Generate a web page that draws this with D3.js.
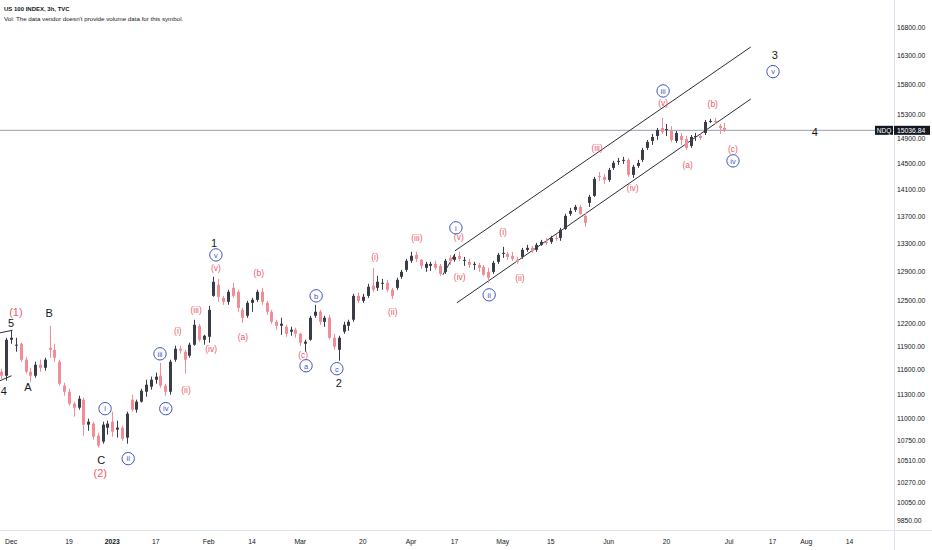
<!DOCTYPE html>
<html>
<head>
<meta charset="utf-8" />
<title>US 100 INDEX, 3h, TVC</title>
<script src="https://d3js.org/d3.v7.min.js"></script>
<style>
  body { margin: 0; background: #fff; }
  svg { display: block; font-family: 'Liberation Sans', Arial, sans-serif; }
</style>
</head>
<body>
<svg width="932" height="550"></svg>
<script>
// daily bars, Nov 29 2022 .. Jul 7 2023 (index 0 = Nov 29)
const opens = [
    11576, 11526, 11984, 11920, 11933, 11728, 11576, 11526, 11664, 11626,
    11881, 11855, 11702, 11402, 11328, 11182, 11134, 11231, 10931, 10943,
    10801, 10732, 10895, 10966, 10872, 10895, 10778, 11231, 11110, 11207,
    11328, 11390, 11476, 11526, 11402, 11328, 11728, 11868, 11830, 11779,
    11920, 12167, 11984, 12023, 12568, 12719, 12541, 12487, 12678, 12623,
    12379, 12300, 12473, 12514, 12623, 12473, 12353, 12220, 12167, 12154,
    12089, 12115, 12062, 11933, 11984, 12300, 12353, 12220, 12273, 12010,
    11855, 12089, 12167, 12247, 12568, 12500, 12568, 12706, 12678, 12733,
    12747, 12651, 12678, 12830, 12927, 13054, 13139, 13068, 12955, 12983,
    13011, 12983, 12899, 13096, 13068, 13125, 13054, 13040, 12997, 12997,
    12969, 12899, 12899, 13040, 13153, 13153, 13125, 13068, 13110, 13210,
    13239, 13210, 13282, 13325, 13325, 13383, 13383, 13514, 13736, 13795,
    13840, 13706, 13900, 14006, 14312, 14297, 14250, 14437, 14531, 14547,
    14563, 14328, 14468, 14563, 14753, 14865, 14945, 15075, 15043, 15026,
    14865, 14945, 14897, 14785, 14929, 14945, 14994, 15191, 15191, 15108,
    15075,
]
const highs = [
    11614, 12010, 12102, 12010, 11946, 11766, 11626, 11702, 11728, 11753,
    12167, 11933, 11728, 11439, 11365, 11207, 11279, 11255, 11002, 10966,
    10836, 10966, 10978, 11086, 10978, 10919, 11086, 11292, 11231, 11365,
    11476, 11514, 11564, 11689, 11427, 11728, 11907, 11907, 11855, 11946,
    12247, 12194, 12049, 12433, 12830, 12802, 12568, 12651, 12747, 12651,
    12406, 12500, 12541, 12651, 12678, 12500, 12379, 12247, 12273, 12180,
    12154, 12141, 12076, 11984, 12300, 12446, 12379, 12300, 12313, 12062,
    12036, 12220, 12247, 12596, 12610, 12596, 12733, 12955, 12844, 12802,
    12788, 12678, 12816, 12927, 13082, 13182, 13182, 13082, 13040, 13040,
    13054, 13011, 13082, 13139, 13153, 13182, 13110, 13082, 13040, 13025,
    12997, 12955, 13054, 13167, 13253, 13182, 13182, 13110, 13239, 13282,
    13268, 13311, 13354, 13383, 13412, 13441, 13529, 13736, 13825, 13870,
    13870, 13751, 14022, 14297, 14375, 14343, 14437, 14547, 14594, 14610,
    14594, 14484, 14563, 14753, 14881, 14978, 15075, 15240, 15141, 15108,
    15026, 14994, 14945, 14961, 14994, 14994, 15207, 15224, 15240, 15141,
    15158,
]
const lows = [
    11476, 11464, 11933, 11830, 11702, 11551, 11451, 11501, 11576, 11589,
    11753, 11702, 11402, 11279, 11158, 11026, 11110, 10801, 10860, 10755,
    10662, 10708, 10813, 10790, 10778, 10743, 10708, 11086, 11074, 11195,
    11267, 11353, 11427, 11377, 11279, 11292, 11702, 11804, 11551, 11753,
    11907, 11959, 11920, 11946, 12555, 12487, 12446, 12446, 12541, 12353,
    12207, 12273, 12353, 12487, 12446, 12313, 12194, 12115, 12049, 12023,
    12036, 12010, 11907, 11830, 11971, 12273, 12180, 12154, 11984, 11855,
    11715, 12062, 12102, 12220, 12473, 12473, 12541, 12623, 12637, 12651,
    12623, 12527, 12651, 12802, 12899, 13025, 13040, 12941, 12899, 12913,
    12927, 12844, 12871, 12997, 13040, 13054, 12983, 12955, 12927, 12899,
    12844, 12747, 12871, 13011, 13096, 13068, 13054, 13011, 13082, 13182,
    13167, 13182, 13268, 13282, 13296, 13340, 13340, 13500, 13706, 13765,
    13721, 13544, 13840, 13991, 14235, 14189, 14220, 14406, 14484, 14500,
    14297, 14281, 14437, 14531, 14721, 14801, 14881, 14978, 14945, 14849,
    14833, 14801, 14721, 14753, 14865, 14881, 14961, 15158, 15141, 14978,
    15010,
]
const closes = [
    11526, 11984, 12010, 11920, 11728, 11576, 11526, 11664, 11626, 11728,
    11855, 11753, 11427, 11328, 11182, 11134, 11243, 10931, 10966, 10790,
    10685, 10931, 10943, 10848, 10895, 10766, 11062, 11110, 11207, 11340,
    11414, 11476, 11514, 11402, 11328, 11702, 11868, 11843, 11728, 11920,
    12180, 11984, 12036, 12379, 12761, 12555, 12487, 12623, 12568, 12406,
    12273, 12473, 12514, 12623, 12487, 12353, 12220, 12167, 12194, 12062,
    12115, 12062, 11946, 11959, 12273, 12353, 12220, 12273, 12010, 11894,
    12010, 12180, 12220, 12568, 12500, 12555, 12692, 12651, 12761, 12747,
    12651, 12568, 12788, 12899, 13054, 13125, 13082, 12983, 13011, 13011,
    12955, 12871, 13054, 13054, 13110, 13082, 13068, 12997, 13011, 12955,
    12858, 12816, 13025, 13139, 13167, 13110, 13082, 13040, 13210, 13239,
    13196, 13282, 13325, 13311, 13383, 13369, 13500, 13706, 13780, 13840,
    13736, 13603, 13991, 14266, 14297, 14250, 14406, 14516, 14547, 14563,
    14328, 14453, 14516, 14721, 14849, 14929, 15043, 15010, 15059, 14881,
    14994, 14881, 14753, 14929, 14945, 14913, 15174, 15191, 15174, 15075,
    15036.84,
]
const lastPrice = 15036.84

// time axis: label text and the bar slot it sits on
const timeLabels = ['Dec', '19', '2023', '17', 'Feb', '14', 'Mar', '20', 'Apr', '17', 'May', '15', 'Jun', '20', 'Jul', '17', 'Aug', '14']
const timeSlots = [2, 14, 23, 32, 43, 52, 62, 75, 85, 94, 104, 114, 126, 138, 151, 160, 167, 176]

const priceTicks = [16800, 16300, 15800, 15300, 14900, 14500, 14100, 13700, 13300, 12900, 12500, 12200, 11900, 11600, 11300, 11000, 10750, 10510, 10270, 10050, 9850]

// elliott wave labels: [text, bar slot, price]
const intermediateLabels = [['(1)', 3.0, 12353], ['(2)', 20.5, 10377]]
const minorLabels = [
    ['5', 2.0, 12206], ['4', 0.5, 11340], ['A', 5.5, 11390], ['B', 9.9, 12340], ['C', 20.7, 10525],
    ['1', 44.1, 13310], ['2', 70.0, 11439], ['3', 160.5, 16316], ['4', 168.8, 15013],
]
const minuteLabels = [
    ['i', 21.5, 11122], ['ii', 26.3, 10536], ['iii', 32.9, 11803], ['iv', 34.1, 11122], ['v', 44.5, 13138],
    ['a', 63.2, 11651], ['b', 65.3, 12568], ['c', 69.6, 11614], ['i', 94.3, 13529], ['ii', 101.2, 12582],
    ['iii', 137.3, 15692], ['iv', 151.8, 14547], ['v', 160.1, 16024],
]
const minuetteLabels = [
    ['(i)', 36.6, 12102], ['(ii)', 38.3, 11353], ['(iii)', 40.4, 12380], ['(iv)', 43.5, 11868], ['(v)', 44.5, 12955],
    ['(a)', 50.1, 12023], ['(b)', 53.4, 12885], ['(c)', 62.6, 11791],
    ['(i)', 77.5, 13110], ['(ii)', 81.2, 12353], ['(iii)', 86.2, 13383], ['(iv)', 95.1, 12830], ['(v)', 94.9, 13397],
    ['(i)', 104.1, 13470], ['(ii)', 107.6, 12816], ['(iii)', 123.6, 14753], ['(iv)', 131.0, 14128], ['(v)', 137.3, 15488],
    ['(a)', 142.4, 14484], ['(b)', 147.6, 15471], ['(c)', 151.8, 14737],
]

// trend lines: [[slot, price], [slot, price]]
const trendLines = [
    [[94.1, 13196], [155.5, 16458]],
    [[94.5, 12473], [155.5, 15556]],
    [[91.6, 12858], [94.1, 13153]],
    [[-0.3, 12075], [2.3, 12108]],
    [[-0.3, 11464], [2.1, 11526]],
]

const W = 932
const plotRight = 894
const plotBottom = 530

const x = d3.scaleLinear().domain([-0.3, 185]).range([0, 893])
const y = d3.scaleLog().domain([9752, 17317]).range([plotBottom, 0])

const svg = d3.select('svg')

svg.append('defs').append('clipPath').attr('id', 'plot')
    .append('rect').attr('width', plotRight).attr('height', plotBottom)

const plot = svg.append('g').attr('clip-path', 'url(#plot)')

// last price line
plot.append('line')
    .attr('x1', 0).attr('x2', plotRight)
    .attr('y1', y(lastPrice)).attr('y2', y(lastPrice))
    .style('stroke', '#9a9ea8').style('stroke-width', 1)

plot.selectAll('line.trend')
    .data(trendLines)
    .enter()
    .append('line')
    .attr('class', 'trend')
    .attr('x1', (d) => x(d[0][0])).attr('y1', (d) => y(d[0][1]))
    .attr('x2', (d) => x(d[1][0])).attr('y2', (d) => y(d[1][1]))
    .style('stroke', '#2a2e39').style('stroke-width', 1)

const bars = d3.range(closes.length).map((i) => ({
    i,
    o: opens[i],
    h: highs[i],
    l: lows[i],
    c: closes[i],
}))
const upColor = '#3a3d46'
const downColor = '#f28c95'
const colorOf = (d) => (d.c >= d.o ? upColor : downColor)

const candle = plot.selectAll('g.bar')
    .data(bars)
    .enter()
    .append('g')
    .attr('class', 'bar')

candle.append('line')
    .attr('x1', (d) => Math.round(x(d.i)) + 0.5)
    .attr('x2', (d) => Math.round(x(d.i)) + 0.5)
    .attr('y1', (d) => y(d.h))
    .attr('y2', (d) => y(d.l))
    .style('stroke', colorOf)
    .style('stroke-width', 1)

candle.append('rect')
    .attr('x', (d) => Math.round(x(d.i)) - 1)
    .attr('width', 3)
    .attr('y', (d) => y(Math.max(d.o, d.c)))
    .attr('height', (d) => Math.max(1, Math.abs(y(d.o) - y(d.c))))
    .style('fill', colorOf)

// wave labels
const red = '#ee5a6b'
const blue = '#3f55c0'

plot.selectAll('text.intermediate')
    .data(intermediateLabels)
    .enter()
    .append('text')
    .attr('class', 'intermediate')
    .attr('x', (d) => x(d[1]))
    .attr('y', (d) => y(d[2]))
    .attr('text-anchor', 'middle')
    .attr('dominant-baseline', 'central')
    .style('font-size', '11px')
    .style('fill', red)
    .text((d) => d[0])

plot.selectAll('text.minuette')
    .data(minuetteLabels)
    .enter()
    .append('text')
    .attr('class', 'minuette')
    .attr('x', (d) => x(d[1]))
    .attr('y', (d) => y(d[2]))
    .attr('text-anchor', 'middle')
    .attr('dominant-baseline', 'central')
    .style('font-size', '8.5px')
    .style('fill', red)
    .text((d) => d[0])

plot.selectAll('text.minor')
    .data(minorLabels)
    .enter()
    .append('text')
    .attr('class', 'minor')
    .attr('x', (d) => x(d[1]))
    .attr('y', (d) => y(d[2]))
    .attr('text-anchor', 'middle')
    .attr('dominant-baseline', 'central')
    .style('font-size', '11px')
    .style('fill', '#131722')
    .text((d) => d[0])

const minute = plot.selectAll('g.minute')
    .data(minuteLabels)
    .enter()
    .append('g')
    .attr('class', 'minute')
    .attr('transform', (d) => `translate(${x(d[1])},${y(d[2])})`)

minute.append('circle')
    .attr('r', 6.2)
    .style('fill', 'none')
    .style('stroke', blue)
    .style('stroke-width', 1)

minute.append('text')
    .attr('text-anchor', 'middle')
    .attr('dominant-baseline', 'central')
    .attr('y', 0.3)
    .style('font-size', '7.5px')
    .style('fill', blue)
    .text((d) => d[0])

// frame
svg.append('line')
    .attr('x1', plotRight + 0.5).attr('x2', plotRight + 0.5)
    .attr('y1', 0).attr('y2', 550)
    .style('stroke', '#e0e3eb')
svg.append('line')
    .attr('x1', 0).attr('x2', W)
    .attr('y1', plotBottom + 0.5).attr('y2', plotBottom + 0.5)
    .style('stroke', '#e0e3eb')

// price axis
svg.append('g')
    .selectAll('text')
    .data(priceTicks)
    .enter()
    .append('text')
    .attr('x', plotRight + 3)
    .attr('y', (d) => y(d))
    .attr('dominant-baseline', 'central')
    .style('font-size', '6.8px')
    .style('fill', '#131722')
    .text((d) => d3.format('.2f')(d))

// time axis
svg.append('g')
    .selectAll('text')
    .data(timeLabels)
    .enter()
    .append('text')
    .attr('x', (d, i) => x(timeSlots[i]))
    .attr('y', 541)
    .attr('text-anchor', 'middle')
    .attr('dominant-baseline', 'central')
    .style('font-size', '6.8px')
    .style('font-weight', (d) => (d === '2023' ? 'bold' : 'normal'))
    .style('fill', '#131722')
    .text((d) => d)

// last price tag
const tagY = y(lastPrice)
svg.append('rect')
    .attr('x', 875).attr('y', tagY - 4.5)
    .attr('width', 18).attr('height', 9)
    .style('fill', '#131722')
svg.append('text')
    .attr('x', 884).attr('y', tagY)
    .attr('text-anchor', 'middle')
    .attr('dominant-baseline', 'central')
    .style('font-size', '6.5px')
    .style('fill', '#fff')
    .text('NDQ')
svg.append('rect')
    .attr('x', plotRight).attr('y', tagY - 4.5)
    .attr('width', 36).attr('height', 9)
    .style('fill', '#131722')
svg.append('text')
    .attr('x', plotRight + 3).attr('y', tagY)
    .attr('dominant-baseline', 'central')
    .style('font-size', '6.8px')
    .style('fill', '#fff')
    .text(d3.format('.2f')(lastPrice))

// legend
svg.append('text')
    .attr('x', 4).attr('y', 11)
    .style('font-size', '6px')
    .style('font-weight', 'bold')
    .style('fill', '#131722')
    .text('US 100 INDEX, 3h, TVC')
svg.append('text')
    .attr('x', 4).attr('y', 20.5)
    .style('font-size', '6.2px')
    .style('fill', '#131722')
    .text("Vol: The data vendor doesn't provide volume data for this symbol.")
</script>
</body>
</html>
